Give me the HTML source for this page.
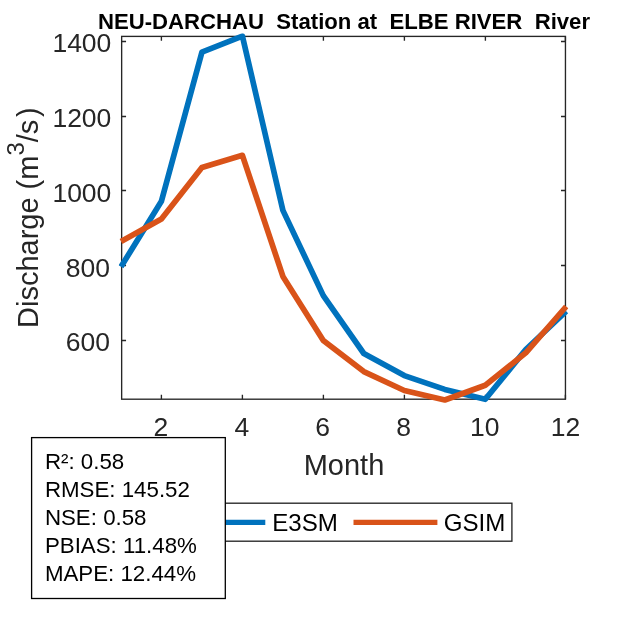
<!DOCTYPE html>
<html><head><meta charset="utf-8"><title>NEU-DARCHAU Station at ELBE RIVER River</title>
<style>
html,body{margin:0;padding:0;background:#fff;}
body{width:625px;height:625px;overflow:hidden;}
svg{display:block;font-family:"Liberation Sans",Arial,Helvetica,sans-serif;}
.tk{font-size:26.5px;fill:#262626;}
.lb{font-size:29px;fill:#262626;}
.ti{font-size:22.15px;font-weight:bold;fill:#000;}
.lg{font-size:24.1px;fill:#000;}
.an{font-size:22.3px;fill:#000;}
</style></head><body>
<svg width="625" height="625" viewBox="0 0 625 625">
<rect width="625" height="625" fill="#fff"/>
<defs><clipPath id="c"><rect x="118.65" y="33.3" width="449.75" height="369.8"/></clipPath></defs>
<rect x="121.65" y="36.4" width="443.8" height="362.8" fill="#fff" stroke="#262626" stroke-width="1.35"/>
<path d="M161.4,399.2v-4.4M161.4,36.4v4.4M242.4,399.2v-4.4M242.4,36.4v4.4M323.4,399.2v-4.4M323.4,36.4v4.4M404.4,399.2v-4.4M404.4,36.4v4.4M485.4,399.2v-4.4M485.4,36.4v4.4M565.4,399.2v-4.4M565.4,36.4v4.4M121.65,41.5h4.4M565.4,41.5h-4.4M121.65,116.5h4.4M565.4,116.5h-4.4M121.65,190.5h4.4M565.4,190.5h-4.4M121.65,265.5h4.4M565.4,265.5h-4.4M121.65,340.5h4.4M565.4,340.5h-4.4" stroke="#262626" stroke-width="1.35" fill="none"/>
<g clip-path="url(#c)" fill="none" stroke-width="5.7" stroke-linejoin="round" stroke-linecap="butt">
<polyline points="121.0,266.8 161.4,201.2 201.9,52.2 242.4,36.1 282.9,210.4 323.3,295.6 363.8,353.5 404.3,375.6 444.8,389.4 485.3,399.3 525.8,349.5 566.2,311.2" stroke="#0072BD"/>
<polyline points="121.0,241.5 161.4,219.0 201.9,167.6 242.4,155.3 282.9,276.4 323.3,340.4 363.8,371.6 404.3,390.5 444.8,400.0 485.3,385.2 525.8,352.8 566.2,306.5" stroke="#D95319"/>
</g>
<text class="tk" x="111.35" y="52.4" text-anchor="end">1400</text>
<text class="tk" x="111.35" y="126.6" text-anchor="end">1200</text>
<text class="tk" x="111.35" y="201.6" text-anchor="end">1000</text>
<text class="tk" x="110.05" y="276.6" text-anchor="end">800</text>
<text class="tk" x="110.05" y="350.6" text-anchor="end">600</text>
<text class="tk" x="160.8" y="435.8" text-anchor="middle">2</text>
<text class="tk" x="241.8" y="435.8" text-anchor="middle">4</text>
<text class="tk" x="322.7" y="435.8" text-anchor="middle">6</text>
<text class="tk" x="403.7" y="435.8" text-anchor="middle">8</text>
<text class="tk" x="484.7" y="435.8" text-anchor="middle">10</text>
<text class="tk" x="565.6" y="435.8" text-anchor="middle">12</text>
<text class="lb" x="344" y="475" text-anchor="middle">Month</text>
<text class="lb" transform="translate(38.2,328) rotate(-90)">Discharge (m<tspan font-size="24px" dy="-14.2">3</tspan><tspan dy="14.2">/s</tspan><tspan dx="2.6">)</tspan></text>
<text class="ti" x="344" y="28.6" text-anchor="middle" xml:space="preserve">NEU-DARCHAU  Station at  ELBE RIVER  River</text>
<rect x="175.5" y="503.2" width="336.4" height="38" fill="#fff" stroke="#262626" stroke-width="1.35"/>
<path d="M181,522.4H265.3" stroke="#0072BD" stroke-width="5.4"/>
<text class="lg" x="272.2" y="530.6">E3SM</text>
<path d="M353.5,522.4H437.4" stroke="#D95319" stroke-width="5.4"/>
<text class="lg" x="443.8" y="530.6">GSIM</text>
<rect x="31.6" y="437.6" width="193.7" height="160.9" fill="#fff" stroke="#000" stroke-width="1.3"/>
<text class="an" x="44.9" y="468.8">R²: 0.58</text>
<text class="an" x="44.9" y="496.9">RMSE: 145.52</text>
<text class="an" x="44.9" y="524.9">NSE: 0.58</text>
<text class="an" x="44.9" y="553.0">PBIAS: 11.48%</text>
<text class="an" x="44.9" y="581.0">MAPE: 12.44%</text>
</svg>
</body></html>
